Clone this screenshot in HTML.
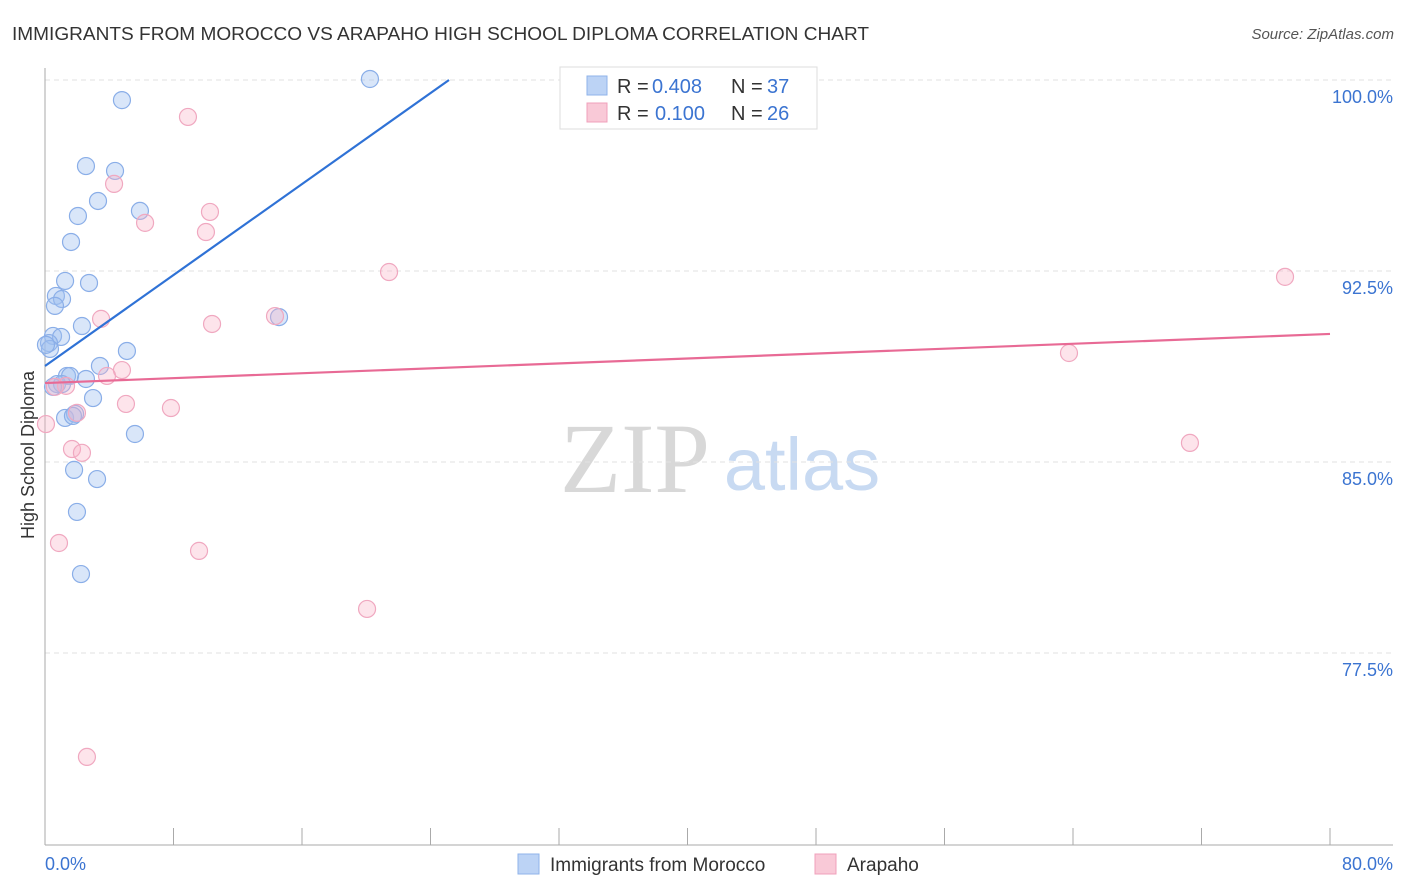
<!DOCTYPE html>
<html><head><meta charset="utf-8">
<style>
body{margin:0;background:#fff;font-family:"Liberation Sans",sans-serif;}
svg{display:block}
</style></head>
<body>
<svg id="chart" width="1406" height="892">
<text x="12" y="40" font-size="18" fill="#333" textLength="857" lengthAdjust="spacingAndGlyphs">IMMIGRANTS FROM MOROCCO VS ARAPAHO HIGH SCHOOL DIPLOMA CORRELATION CHART</text>
<text x="1394" y="39" font-size="15" fill="#555" font-style="italic" text-anchor="end">Source: ZipAtlas.com</text>
<g>
<text x="635" y="492" font-size="100" font-family="Liberation Serif,serif" fill="#d8d8d8" text-anchor="middle">ZIP</text>
<text x="802" y="490" font-size="74" fill="#c8daf2" text-anchor="middle">atlas</text>
</g>
<g id="grid"></g>
<g id="axes"></g>
<g id="pts"></g>
<g id="lines"></g>
<text x="34" y="455" font-size="18" fill="#333" text-anchor="middle" transform="rotate(-90 34 455)">High School Diploma</text>
<text x="45" y="870" font-size="18" fill="#3b74d1">0.0%</text>
<text x="1393" y="870" font-size="18" fill="#3b74d1" text-anchor="end">80.0%</text>
<g>
<rect x="560" y="67" width="257" height="62" fill="#fff" stroke="#ddd"/>
<rect x="587" y="76" width="20" height="19" fill="#bcd3f5" stroke="#8fb3ea"/>
<text x="617" y="93" font-size="20" fill="#333">R = </text><text x="652" y="93" font-size="20" fill="#3b74d1">0.408</text>
<text x="731" y="93" font-size="20" fill="#333">N = </text><text x="767" y="93" font-size="20" fill="#3b74d1">37</text>
<rect x="587" y="103" width="20" height="19" fill="#f9c9d7" stroke="#f0a0bb"/>
<text x="617" y="120" font-size="20" fill="#333">R = </text><text x="655" y="120" font-size="20" fill="#3b74d1">0.100</text>
<text x="731" y="120" font-size="20" fill="#333">N = </text><text x="767" y="120" font-size="20" fill="#3b74d1">26</text>
</g>
<g>
<rect x="518" y="854" width="21" height="20" fill="#bcd3f5" stroke="#8fb3ea"/>
<text x="550" y="871" font-size="19" fill="#333">Immigrants from Morocco</text>
<rect x="815" y="854" width="21" height="20" fill="#f9c9d7" stroke="#f0a0bb"/>
<text x="847" y="871" font-size="19" fill="#333">Arapaho</text>
</g>
</svg>
<script>
const yTicks=[100,92.5,85,77.5];
const yTickLabels=["100.0%","92.5%","85.0%","77.5%"];
const xTicks=[0,8,16,24,32,40,48,56,64,72,80];
const blueX=[20.23,4.79,2.55,4.36,3.30,5.91,2.05,1.62,1.25,2.74,0.68,1.06,0.62,2.30,14.57,0.50,1.00,0.25,0.31,5.10,3.42,1.37,1.56,2.55,0.75,1.06,0.50,2.99,1.25,1.87,1.74,5.60,1.81,3.24,1.99,2.24,0.06];
const blueY=[100.04,99.21,96.62,96.43,95.25,94.86,94.66,93.64,92.11,92.03,91.52,91.40,91.13,90.34,90.69,89.95,89.91,89.67,89.44,89.36,88.77,88.38,88.38,88.26,88.06,88.06,87.95,87.51,86.73,86.89,86.81,86.10,84.69,84.33,83.04,80.60,89.60];
const pinkX=[8.90,4.30,10.27,6.23,10.02,21.42,77.20,3.49,10.40,14.32,63.75,4.79,3.86,1.31,0.62,5.04,7.84,1.99,0.06,1.68,2.30,71.28,0.87,9.59,20.05,2.61];
const pinkY=[98.55,95.92,94.82,94.39,94.03,92.46,92.27,90.62,90.42,90.73,89.28,88.61,88.38,87.99,87.95,87.28,87.12,86.93,86.49,85.51,85.36,85.75,81.82,81.51,79.23,73.42];
const blueFit=[88.77,0.4465];
const pinkFit=[88.10,0.0241];
const X=v=>45+v*1285/80;
const Y=v=>80+(100-v)*191/7.5;
const NS="http://www.w3.org/2000/svg";
function mk(t,a,p){const e=document.createElementNS(NS,t);for(const k in a)e.setAttribute(k,a[k]);p.appendChild(e);return e;}
const grid=document.getElementById('grid'),axes=document.getElementById('axes'),pts=document.getElementById('pts'),lines=document.getElementById('lines');
yTicks.forEach((v,i)=>{
 const l=mk('line',{x1:45,x2:1393,y1:Y(v),y2:Y(v),stroke:'#e2e2e2','stroke-dasharray':'5,4'},grid);
 
 
 const t=mk('text',{x:1393,y:Y(v)+23,'font-size':18,fill:'#3b74d1','text-anchor':'end'},grid);
 t.textContent=yTickLabels[i];
 
 
});
const ya=mk('line',{x1:45,x2:45,y1:68,y2:845,stroke:'#aaa'},axes);


const xa=mk('line',{x1:45,x2:1393,y1:845,y2:845,stroke:'#aaa'},axes);


xTicks.forEach(v=>{
 const t=mk('line',{x1:X(v),x2:X(v),y1:828,y2:845,stroke:'#aaa'},axes);
 
 
});
blueX.forEach((v,i)=>{
 const c=mk('circle',{cx:X(v),cy:Y(blueY[i]),r:8.5,fill:'rgba(160,192,240,0.4)',stroke:'#8aaee8','stroke-width':1.2},pts);
 
 
});
pinkX.forEach((v,i)=>{
 const c=mk('circle',{cx:X(v),cy:Y(pinkY[i]),r:8.5,fill:'rgba(248,178,198,0.35)',stroke:'#f0a8c0','stroke-width':1.2},pts);
 
 
});
const bx2=(100-blueFit[0])/blueFit[1];
const bl=mk('line',{x1:X(0),y1:Y(blueFit[0]),x2:X(bx2),y2:Y(100),stroke:'#2f72d6','stroke-width':2.2},lines);


const pl=mk('line',{x1:X(0),y1:Y(pinkFit[0]),x2:X(80),y2:Y(pinkFit[0]+pinkFit[1]*80),stroke:'#e86a95','stroke-width':2.2},lines);


</script>
</body></html>
